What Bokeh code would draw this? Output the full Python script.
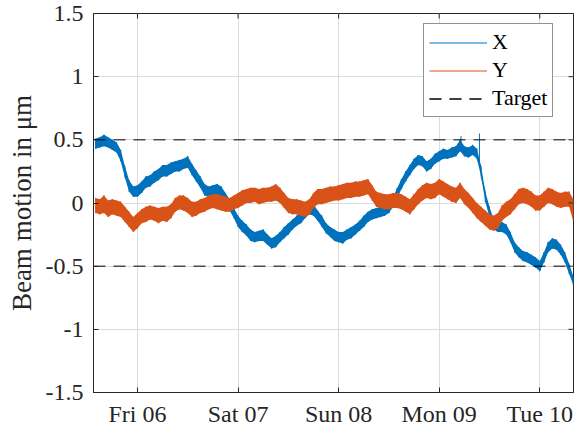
import numpy as np
from bokeh.plotting import figure
from bokeh.models import Range1d, FixedTicker, Legend, LegendItem, DatetimeTickFormatter
from bokeh.embed import file_html
from bokeh.resources import INLINE

# ---------------- data ----------------
# sample times in hours relative to Fri 06 00:00
hours = list(range(-10, 105))

x_hi = [0.51, 0.52, 0.54, 0.52, 0.50, 0.48, 0.42, 0.29, 0.18, 0.13,
        0.14, 0.17, 0.21, 0.22, 0.25, 0.27, 0.30, 0.30, 0.32, 0.33,
        0.34, 0.35, 0.37, 0.31, 0.26, 0.21, 0.15, 0.13, 0.14, 0.15,
        0.13, 0.08, 0.03, -0.04, -0.10, -0.14, -0.17, -0.21, -0.23, -0.22,
        -0.21, -0.25, -0.28, -0.26, -0.23, -0.19, -0.16, -0.13, -0.10, -0.07,
        -0.04, -0.01, -0.01, -0.06, -0.10, -0.16, -0.19, -0.21, -0.23, -0.23,
        -0.21, -0.19, -0.17, -0.14, -0.10, -0.07, -0.05, -0.04, -0.03, -0.02,
        0.00, 0.05, 0.12, 0.19, 0.25, 0.30, 0.35, 0.38, 0.37, 0.33,
        0.35, 0.39, 0.41, 0.43, 0.42, 0.44, 0.45, 0.50, 0.45, 0.44,
        0.46, 0.43, 0.29, 0.09, -0.03, -0.13, -0.15, -0.15, -0.17, -0.23,
        -0.31, -0.35, -0.38, -0.39, -0.41, -0.43, -0.46, -0.39, -0.31, -0.28,
        -0.29, -0.33, -0.39, -0.48, -0.58]
x_lo = [0.43, 0.44, 0.45, 0.44, 0.42, 0.40, 0.33, 0.20, 0.09, 0.05,
        0.05, 0.08, 0.12, 0.13, 0.16, 0.18, 0.21, 0.21, 0.23, 0.25,
        0.25, 0.27, 0.28, 0.22, 0.17, 0.12, 0.06, 0.05, 0.06, 0.07,
        0.04, -0.01, -0.06, -0.12, -0.19, -0.23, -0.26, -0.30, -0.31, -0.30,
        -0.30, -0.33, -0.36, -0.35, -0.31, -0.28, -0.25, -0.21, -0.18, -0.16,
        -0.12, -0.09, -0.10, -0.14, -0.19, -0.24, -0.27, -0.30, -0.31, -0.32,
        -0.29, -0.28, -0.25, -0.22, -0.19, -0.15, -0.13, -0.12, -0.11, -0.10,
        -0.08, -0.03, 0.04, 0.11, 0.17, 0.22, 0.27, 0.30, 0.29, 0.25,
        0.27, 0.31, 0.33, 0.35, 0.35, 0.36, 0.37, 0.41, 0.37, 0.36,
        0.38, 0.35, 0.21, 0.01, -0.11, -0.21, -0.23, -0.23, -0.25, -0.31,
        -0.39, -0.43, -0.46, -0.47, -0.49, -0.51, -0.54, -0.47, -0.39, -0.36,
        -0.37, -0.41, -0.47, -0.56, -0.65]

y_hi = [0.04, 0.03, 0.06, 0.02, 0.03, 0.02, 0.01, -0.03, -0.07, -0.11,
        -0.08, -0.05, -0.03, -0.02, -0.03, -0.04, -0.03, -0.03, -0.01, 0.04,
        0.06, 0.06, 0.04, 0.01, 0.01, 0.03, 0.04, 0.06, 0.07, 0.07,
        0.06, 0.05, 0.04, 0.06, 0.08, 0.10, 0.11, 0.12, 0.12, 0.11,
        0.12, 0.12, 0.13, 0.15, 0.12, 0.08, 0.04, 0.03, 0.03, 0.02,
        0.01, 0.03, 0.08, 0.11, 0.11, 0.12, 0.13, 0.13, 0.14, 0.15,
        0.16, 0.16, 0.17, 0.17, 0.18, 0.19, 0.14, 0.09, 0.08, 0.07,
        0.07, 0.08, 0.08, 0.07, 0.05, 0.03, 0.07, 0.11, 0.14, 0.16,
        0.15, 0.16, 0.19, 0.17, 0.15, 0.13, 0.12, 0.16, 0.11, 0.08,
        0.04, 0.00, -0.03, -0.06, -0.09, -0.10, -0.08, -0.02, 0.01, 0.03,
        0.07, 0.11, 0.12, 0.11, 0.09, 0.06, 0.06, 0.09, 0.12, 0.11,
        0.09, 0.08, 0.09, 0.09, 0.03]
y_lo = [-0.08, -0.09, -0.08, -0.11, -0.09, -0.10, -0.11, -0.15, -0.19, -0.23,
        -0.20, -0.16, -0.15, -0.13, -0.14, -0.16, -0.14, -0.15, -0.12, -0.07,
        -0.05, -0.06, -0.08, -0.11, -0.10, -0.08, -0.07, -0.05, -0.04, -0.05,
        -0.06, -0.07, -0.07, -0.05, -0.04, -0.02, 0.00, 0.00, 0.01, -0.01,
        0.00, 0.01, 0.01, 0.02, 0.00, -0.04, -0.08, -0.09, -0.09, -0.10,
        -0.11, -0.09, -0.04, -0.01, -0.01, 0.00, 0.01, 0.02, 0.02, 0.03,
        0.04, 0.04, 0.05, 0.05, 0.06, 0.07, 0.02, -0.03, -0.04, -0.05,
        -0.05, -0.04, -0.04, -0.05, -0.07, -0.09, -0.05, -0.01, 0.02, 0.04,
        0.03, 0.04, 0.07, 0.05, 0.03, 0.01, 0.00, 0.04, -0.01, -0.04,
        -0.08, -0.12, -0.15, -0.18, -0.21, -0.22, -0.20, -0.14, -0.11, -0.09,
        -0.05, -0.01, 0.00, -0.01, -0.03, -0.06, -0.06, -0.03, 0.00, -0.01,
        -0.03, -0.04, -0.03, -0.03, -0.14]

# isolated spikes of X (hours, low end, high end)
x_spike_h = [77.2, 81.6]
x_spike_lo = [0.42, 0.30]
x_spike_hi = [0.53, 0.55]

target_levels = [0.5, -0.5]

day_ticks = ["2020-03-06", "2020-03-07", "2020-03-08", "2020-03-09", "2020-03-10"]
y_ticks = [-1.5, -1.0, -0.5, 0.0, 0.5, 1.0, 1.5]
y_tick_labels = ["-1.5", "-1", "-0.5", "0", "0.5", "1", "1.5"]

# ---------------- helpers ----------------
base = np.datetime64("2020-03-06T00:00")
def to_ms(h):
    return (base.astype("datetime64[ms]").astype("int64")
            + np.asarray(h, dtype=float) * 3600_000.0)

t = to_ms(hours)
t2 = np.repeat(t, 2)
def interleave(a, b):
    return [v for pair in zip(a, b) for v in pair]

C_X = "#0072BD"
C_Y = "#D95319"
AX = "#262626"
FONT = "Liberation Serif"

W, H = 578, 430
BL, BR, BT, BB = 93, 5, 13, 38
FW, FH = W - BL - BR, H - BT - BB

x_start = float(np.datetime64("2020-03-05T13:30").astype("datetime64[ms]").astype("int64"))
x_end = float(np.datetime64("2020-03-10T08:03").astype("datetime64[ms]").astype("int64"))
y0, y1 = -1.5, 1.5

p = figure(width=W, height=H, x_axis_type="datetime",
           x_range=Range1d(x_start, x_end), y_range=Range1d(y0, y1),
           output_backend="svg", toolbar_location=None,
           min_border_left=BL, min_border_top=BT, min_border_right=BR, min_border_bottom=BB)
p.background_fill_color = "white"
p.border_fill_color = "white"
p.outline_line_color = AX
p.outline_line_width = 1
p.outline_line_alpha = 1

tick_ms = [float(np.datetime64(d).astype("datetime64[ms]").astype("int64")) for d in day_ticks]
xticker = FixedTicker(ticks=tick_ms)
yticker = FixedTicker(ticks=y_ticks)

# grid
p.xgrid.ticker = xticker
p.ygrid.ticker = yticker
for g in (p.xgrid[0], p.ygrid[0]):
    g.grid_line_color = "#dcdcdc"
    g.grid_line_width = 1

# data bands
p.varea(x=t, y1=x_lo, y2=x_hi, fill_color=C_X)
rx = p.line(x=t2, y=interleave(x_hi, x_lo), line_color=C_X, line_width=1)
p.segment(x0=to_ms(x_spike_h), y0=x_spike_lo, x1=to_ms(x_spike_h), y1=x_spike_hi,
          line_color=C_X, line_width=1)
p.varea(x=t, y1=y_lo, y2=y_hi, fill_color=C_Y)
ry = p.line(x=t2, y=interleave(y_hi, y_lo), line_color=C_Y, line_width=1)

rts = []
for lvl in target_levels:
    rts.append(p.line(x=[x_start, x_end], y=[lvl, lvl], line_color="black",
                      line_width=1, line_dash="12 8"))

# inward ticks on top and right (box style)
TL = 5
dy = (y1 - y0) / FH * TL
dx = (x_end - x_start) / FW * TL
p.segment(x0=tick_ms, y0=[y1] * len(tick_ms), x1=tick_ms, y1=[y1 - dy] * len(tick_ms),
          line_color=AX, line_width=1)
p.segment(x0=[x_end] * len(y_ticks), y0=y_ticks, x1=[x_end - dx] * len(y_ticks), y1=y_ticks,
          line_color=AX, line_width=1)

def style_axis(ax):
    ax.axis_line_color = AX
    ax.axis_line_width = 1
    ax.major_tick_line_color = AX
    ax.major_tick_in = TL
    ax.major_tick_out = 0
    ax.minor_tick_line_color = None
    ax.major_label_text_font = FONT
    ax.major_label_text_font_size = "24px"
    ax.major_label_text_color = AX

# x axis
xa = p.xaxis[0]
xa.ticker = xticker
xa.formatter = DatetimeTickFormatter(days="%a %d", months="%a %d", hours="%a %d",
                                     hourmin="%a %d", minutes="%a %d")
style_axis(xa)
xa.major_label_standoff = 8

# y axis
ya = p.yaxis[0]
ya.ticker = yticker
ya.major_label_overrides = {v: s for v, s in zip(y_ticks, y_tick_labels)}
style_axis(ya)
ya.major_label_standoff = 10
ya.axis_label = "Beam motion in μm"
ya.axis_label_text_font = FONT
ya.axis_label_text_font_size = "27px"
ya.axis_label_text_font_style = "normal"
ya.axis_label_text_color = AX
ya.axis_label_standoff = 6

frame_bottom = BT + FH
legend = Legend(items=[LegendItem(label="X", renderers=[rx]),
                       LegendItem(label="Y", renderers=[ry]),
                       LegendItem(label="Target", renderers=rts)],
                location=(423 - BL, frame_bottom - 117),
                padding=5, spacing=2, margin=0,
                glyph_width=58, glyph_height=25, label_height=25, label_standoff=5,
                label_text_font=FONT, label_text_font_size="22px",
                label_text_color="black", border_line_color=AX, border_line_width=1,
                background_fill_color="white", background_fill_alpha=1)
p.add_layout(legend, "center")

open("out.html", "w").write(file_html(p, INLINE))
